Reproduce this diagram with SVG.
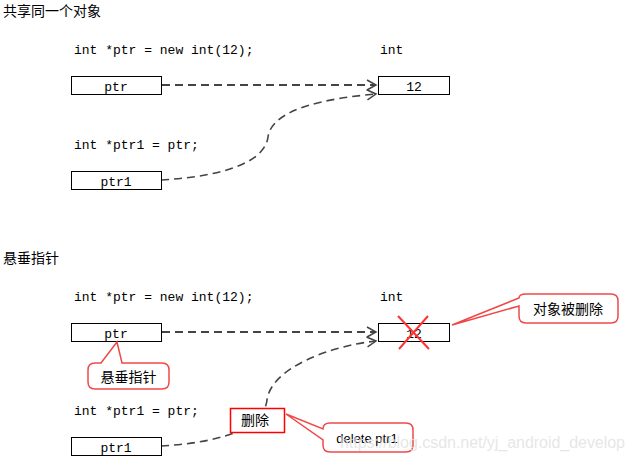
<svg xmlns="http://www.w3.org/2000/svg" width="634" height="463" viewBox="0 0 634 463">
<style>
.code{font-family:"Liberation Mono","DejaVu Sans Mono",monospace;font-size:13px;fill:#000}
.cjk{font-family:"Noto Sans CJK SC","Noto Sans CJK JP",sans-serif;font-size:14px;fill:#000}
.box{fill:#fff;stroke:#000;stroke-width:1}
.conn{fill:none;stroke:#444;stroke-dasharray:8,5}
.callout{fill:#fff;stroke:#f04848;stroke-width:1.5}
.rbox{fill:#fff;stroke:#f00;stroke-width:1.5}
.mid{text-anchor:middle}
</style>
<defs>
<marker id="arr" markerWidth="12" markerHeight="12" refX="10" refY="5" orient="auto" markerUnits="userSpaceOnUse" viewBox="0 0 12 10">
<path d="M1,0 L10,5 L1,10" fill="none" stroke="#444" stroke-width="1.5"/>
</marker>
</defs>
<rect width="634" height="463" fill="#fff"/>

<text class="cjk" x="3" y="16" font-size="15">共享同一个对象</text>
<text class="code" x="74" y="54">int *ptr = new int(12);</text>
<text class="code" x="380" y="54">int</text>
<text class="code" x="74" y="149">int *ptr1 = ptr;</text>

<text class="cjk" x="3" y="263" font-size="15">悬垂指针</text>
<text class="code" x="74" y="301">int *ptr = new int(12);</text>
<text class="code" x="380" y="301">int</text>
<text class="code" x="74" y="415">int *ptr1 = ptr;</text>

<g id="connectors">
<path class="conn" stroke-width="2" d="M162,85 L376,85" marker-end="url(#arr)"/>
<path class="conn" stroke-width="1.6" d="M161,180 C230,176 265,160 268,137 C272,108 330,98 376,94" marker-end="url(#arr)"/>
<path class="conn" stroke-width="2" d="M162,332 L376,332" marker-end="url(#arr)"/>
<path class="conn" stroke-width="1.6" d="M161,446 C230,442 264,425 267,400 C271,368 330,346 376,341" marker-end="url(#arr)"/>
</g>

<g id="s1_ptr"><rect class="box" x="71.5" y="76.5" width="90" height="18"/><text class="code mid" x="116" y="91">ptr</text></g>
<g id="s1_obj"><rect class="box" x="378.5" y="76.5" width="71" height="18"/><text class="code mid" x="414" y="91">12</text></g>
<g id="s1_ptr1"><rect class="box" x="71.5" y="171.5" width="90" height="18"/><text class="code mid" x="116" y="186">ptr1</text></g>

<g id="s2_ptr"><rect class="box" x="71.5" y="323.5" width="90" height="18"/><text class="code mid" x="116" y="338">ptr</text></g>
<g id="s2_obj"><rect class="box" x="378.5" y="323.5" width="71" height="18"/><text class="code mid" x="414" y="338">12</text>
<path d="M398,316 L429,349 M428,316 L399,349" stroke="#f33" stroke-width="2"/></g>
<g id="s2_ptr1"><rect class="box" x="71.5" y="437.5" width="90" height="18"/><text class="code mid" x="116" y="452">ptr1</text></g>

<g id="callout_dangling">
<path class="callout" d="M95,363 L101,363 L117,342 L122,363 L162,363 Q169,363 169,370 L169,382 Q169,389 162,389 L95,389 Q88,389 88,382 L88,370 Q88,363 95,363 Z"/>
<text class="cjk mid" x="128.5" y="382">悬垂指针</text>
</g>

<g id="callout_deleted">
<path class="callout" d="M526,294 L611,294 Q618,294 618,301 L618,316 Q618,323 611,323 L526,323 Q519,323 519,316 L519,306 L452,325 L519,298 Q519,294 526,294 Z"/>
<text class="cjk mid" x="568" y="314">对象被删除</text>
</g>

<g id="delete_box">
<rect class="rbox" x="230.5" y="408.5" width="54" height="24"/>
<text class="cjk mid" x="255" y="425">删除</text>
</g>

<g id="callout_delete">
<path class="callout" d="M330,423 L406,423 Q413,423 413,430 L413,445 Q413,452 406,452 L330,452 Q323,452 323,445 L323,440 L286,414 L323,429 Q323,423 330,423 Z"/>
<text x="367" y="443" text-anchor="middle" font-family="Liberation Sans, Arial, sans-serif" font-size="13" fill="#000">delete ptr1</text>
</g>

<text x="340" y="448" font-family="Liberation Sans, Arial, sans-serif" font-size="16" fill="#e0e0e0" fill-opacity="0.8" textLength="285">https://blog.csdn.net/yj_android_develop</text>
</svg>
